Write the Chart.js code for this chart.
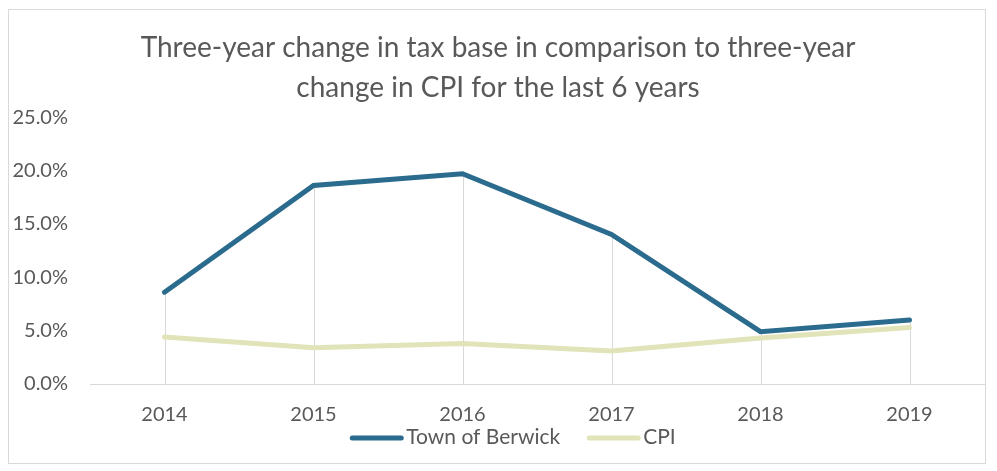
<!DOCTYPE html>
<html>
<head>
<meta charset="utf-8">
<script src="https://cdn.jsdelivr.net/npm/chart.js@4/dist/chart.umd.min.js"></script>
<style>
  html, body { margin: 0; padding: 0; background: #ffffff; }
  #wrap { width: 997px; height: 471px; position: relative; }
</style>
</head>
<body>
<div id="wrap"><canvas id="chart" width="997" height="471"></canvas></div>
<script>
// Three-year change (%) by year
const years = ['2014', '2015', '2016', '2017', '2018', '2019'];
const berwick = [8.6, 18.6, 19.7, 14.0, 4.9, 6.0];
const cpi = [4.4, 3.4, 3.8, 3.1, 4.3, 5.3];
const yTicks = [0, 5, 10, 15, 20, 25];

const FONT = 'Lato, "Open Sans", sans-serif';
const TEXT = '#595959';

// Light frame around the whole chart
const framePlugin = {
  id: 'frame',
  beforeDraw(chart) {
    const ctx = chart.ctx;
    ctx.save();
    ctx.fillStyle = '#ffffff';
    ctx.fillRect(0, 0, chart.width, chart.height);
    ctx.strokeStyle = '#d9d9d9';
    ctx.lineWidth = 1;
    ctx.strokeRect(8.5, 9.5, 977, 454);
    ctx.restore();
  }
};

// Drop lines from the highest point at each category down to the axis
const dropLinePlugin = {
  id: 'dropLines',
  beforeDatasetsDraw(chart) {
    const ctx = chart.ctx;
    const bottom = chart.chartArea.bottom;
    const metas = chart.getSortedVisibleDatasetMetas();
    if (!metas.length) return;
    ctx.save();
    ctx.strokeStyle = '#d9d9d9';
    ctx.lineWidth = 1;
    metas[0].data.forEach((pt, i) => {
      let top = pt.y;
      metas.forEach(m => { if (m.data[i] && m.data[i].y < top) top = m.data[i].y; });
      const x = Math.round(pt.x) + 0.5;
      ctx.beginPath();
      ctx.moveTo(x, top);
      ctx.lineTo(x, bottom);
      ctx.stroke();
    });
    ctx.restore();
  }
};

// Compact legend row under the axis labels: line sample, then series name
const legendRowPlugin = {
  id: 'legendRow',
  afterDraw(chart) {
    const ctx = chart.ctx;
    const sample = 53, gapText = 3, gapItem = 27, y = 437;
    ctx.save();
    ctx.font = '21px ' + FONT;
    ctx.textBaseline = 'middle';
    ctx.textAlign = 'left';
    const items = chart.data.datasets.map(ds => ({
      text: ds.label, color: ds.borderColor, w: ctx.measureText(ds.label).width
    }));
    const total = items.reduce((s, it) => s + sample + gapText + it.w, 0) + gapItem * (items.length - 1);
    let x = 513 - total / 2;
    items.forEach(it => {
      ctx.strokeStyle = it.color;
      ctx.lineWidth = 5;
      ctx.lineCap = 'round';
      ctx.beginPath();
      ctx.moveTo(x + 2, y + 1);
      ctx.lineTo(x + sample - 2, y + 1);
      ctx.stroke();
      ctx.fillStyle = TEXT;
      ctx.fillText(it.text, x + sample + gapText, y);
      x += sample + gapText + it.w + gapItem;
    });
    ctx.restore();
  }
};

new Chart(document.getElementById('chart'), {
  type: 'line',
  data: {
    labels: years,
    datasets: [
      {
        label: 'Town of Berwick',
        data: berwick,
        borderColor: '#2a6b8e',
        backgroundColor: '#2a6b8e',
        borderWidth: 5,
        pointRadius: 0,
        tension: 0,
        borderCapStyle: 'round'
      },
      {
        label: 'CPI',
        data: cpi,
        borderColor: '#e0e4b8',
        backgroundColor: '#e0e4b8',
        borderWidth: 5,
        pointRadius: 0,
        tension: 0,
        borderCapStyle: 'round'
      }
    ]
  },
  options: {
    responsive: false,
    animation: false,
    devicePixelRatio: 1,
    layout: { padding: { top: 10, right: 13, bottom: 42, left: 12 } },
    plugins: {
      title: {
        display: true,
        text: ['Three-year change in tax base in comparison to three-year', 'change in CPI for the last 6 years'],
        color: TEXT,
        font: { family: FONT, size: 28, weight: 'normal', lineHeight: 1.43 },
        padding: { top: 18, bottom: 9 }
      },
      legend: { display: false },
      tooltip: { enabled: false }
    },
    scales: {
      x: {
        offset: true,
        afterFit(scale) { scale.height = 45; },
        grid: { display: false, drawTicks: false },
        border: { color: '#d9d9d9', width: 1 },
        ticks: { color: TEXT, font: { family: FONT, size: 20 }, padding: 19 }
      },
      y: {
        min: 0,
        max: 25,
        afterBuildTicks(scale) { scale.ticks = yTicks.map(v => ({ value: v })); },
        afterFit(scale) { scale.width = 78; },
        grid: { display: false, drawTicks: false },
        border: { display: false },
        ticks: {
          color: TEXT,
          font: { family: FONT, size: 20 },
          padding: 22,
          callback: v => v.toFixed(1) + '%'
        }
      }
    }
  },
  plugins: [framePlugin, dropLinePlugin, legendRowPlugin]
});
</script>
</body>
</html>
